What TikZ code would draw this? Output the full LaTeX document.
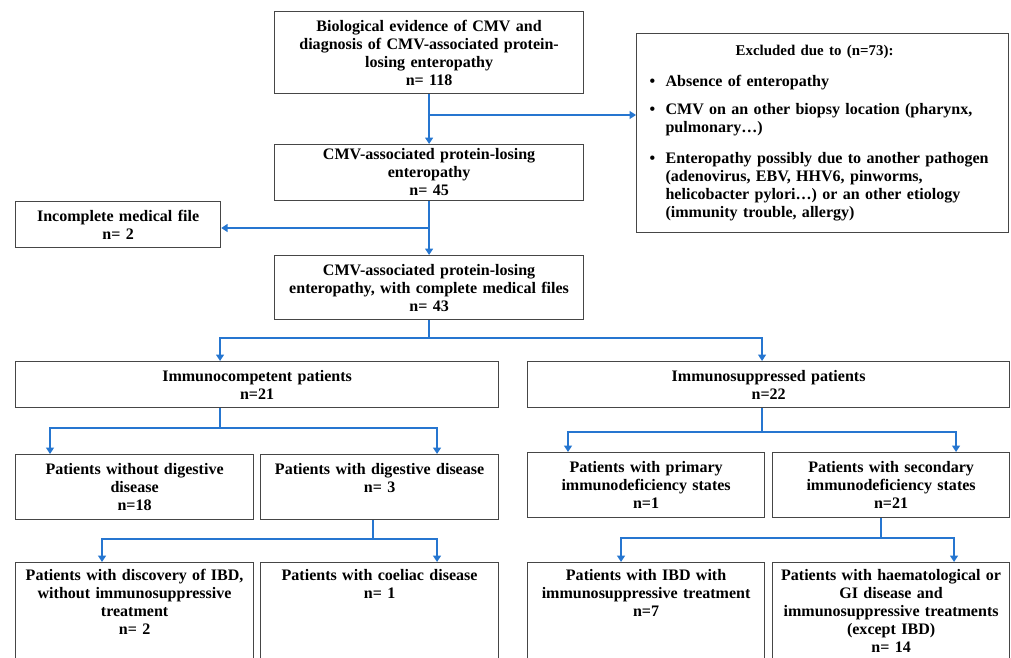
\documentclass[tikz,border=0pt]{standalone}
\usepackage{fontspec}
\setmainfont{Liberation Serif}
\usepackage{tikz}
\usetikzlibrary{arrows.meta}

\definecolor{flowblue}{RGB}{38,118,208}
\definecolor{boxgray}{RGB}{70,70,70}

\tikzset{
  box/.style={draw=boxgray, line width=0.8pt, rectangle, anchor=north west,
    inner xsep=0pt, inner ysep=3pt, align=center,
    font=\fontsize{11.4}{12.8}\selectfont\bfseries},
  openbox/.style={box, inner ysep=3.5pt, text height=9.5pt, text depth=4cm},
  flow/.style={draw=flowblue, line width=1.3pt, -{Triangle[length=4.5pt,width=5.5pt]}}
}
\newcommand{\exitem}{\hangindent=0.725cm\hangafter=1\hspace*{0.325cm}\makebox[0.4cm][l]{\textbullet}}

\begin{document}
\begin{tikzpicture}[x=0.025cm, y=-0.025cm]
        \clip (0,0) rectangle (1011,657);
        \node[box, text width=7.725cm, minimum height=2.05cm] (ev) at (274,11)
          {Biological evidence of CMV and\\ diagnosis of CMV-associated protein-\\ losing enteropathy\\ n= 118};
        \node[box, text width=9.3cm, minimum height=4.975cm, align=left] (excl) at (636,33)
          {\makebox[\linewidth][c]{\fontsize{10.6}{12.8}\selectfont Excluded due to (n=73):\hspace*{0.4cm}}\par\vspace{9pt}
           \exitem Absence of enteropathy\par\vspace{7pt}
           \exitem CMV on an other biopsy location (pharynx,\hfil\break pulmonary…)\par\vspace{9pt}
           \exitem Enteropathy possibly due to another pathogen\hfil\break (adenovirus, EBV, HHV6, pinworms,\hfil\break helicobacter pylori…) or an other etiology\hfil\break (immunity trouble, allergy)\par};
        \node[box, text width=7.725cm, minimum height=1.375cm] (cmv) at (274,144)
          {CMV-associated protein-losing\\ enteropathy\\ n= 45};
        \node[box, text width=5.125cm, minimum height=1.15cm] (inc) at (15,201)
          {Incomplete medical file\\ n= 2};
        \node[box, text width=7.725cm, minimum height=1.6cm] (full) at (274,255)
          {CMV-associated protein-losing\\ enteropathy, with complete medical files\\ n= 43};
        \node[box, text width=12.075cm, minimum height=1.15cm] (comp) at (15,361)
          {Immunocompetent patients\\ n=21};
        \node[box, text width=12.05cm, minimum height=1.15cm] (supp) at (527,361)
          {Immunosuppressed patients\\ n=22};
        \node[box, text width=5.95cm, minimum height=1.625cm] (nodig) at (15,454)
          {Patients without digestive\\ disease\\ n=18};
        \node[box, text width=5.95cm, minimum height=1.625cm] (dig) at (260,454)
          {Patients with digestive disease\\ n= 3\\ \mbox{}};
        \node[box, text width=5.925cm, minimum height=1.625cm] (prim) at (527,452)
          {Patients with primary\\ immunodeficiency states\\ n=1};
        \node[box, text width=5.925cm, minimum height=1.625cm] (sec) at (772,452)
          {Patients with secondary\\ immunodeficiency states\\ n=21};
        \node[openbox, text width=5.95cm] (ibdno) at (15,562)
          {Patients with discovery of IBD,\\ without immunosuppressive\\ treatment\\ n= 2};
        \node[openbox, text width=5.95cm] (coel) at (260,562)
          {Patients with coeliac disease\\ n= 1};
        \node[openbox, text width=5.925cm] (ibdyes) at (527,562)
          {Patients with IBD with\\ immunosuppressive treatment\\ n=7};
        \node[openbox, text width=5.925cm] (haem) at (772,562)
          {Patients with haematological or\\ GI disease and\\ immunosuppressive treatments\\ (except IBD)\\ n= 14};
        % exclusions
        \draw[flow] (ev) -- (cmv);
        \draw[flow] (ev.south |- 0,115) -- (excl.west |- 0,115);
        \draw[flow] (cmv) -- (full);
        \draw[flow] (cmv.south |- 0,228) -- (inc.east |- 0,228);
        % split by immune status
        \draw[flow] (full.south) -- ++(0,18) -| ([xshift=5.125cm]comp.north west);
        \draw[flow] (full.south) -- ++(0,18) -| ([xshift=5.875cm]supp.north west);
        \draw[flow] ([xshift=5.125cm]comp.south west) -- ++(0,20) -| ([xshift=0.875cm]nodig.north west);
        \draw[flow] ([xshift=5.125cm]comp.south west) -- ++(0,20) -| ([xshift=4.425cm]dig.north west);
        \draw[flow] ([xshift=2.825cm]dig.south west) -- ++(0,19) -| ([xshift=2.175cm]ibdno.north west);
        \draw[flow] ([xshift=2.825cm]dig.south west) -- ++(0,19) -| ([xshift=4.425cm]coel.north west);
        \draw[flow] ([xshift=5.875cm]supp.south west) -- ++(0,24) -| ([xshift=1.025cm]prim.north west);
        \draw[flow] ([xshift=5.875cm]supp.south west) -- ++(0,24) -| ([xshift=4.6cm]sec.north west);
        \draw[flow] ([xshift=2.725cm]sec.south west) -- ++(0,20) -| ([xshift=2.35cm]ibdyes.north west);
        \draw[flow] ([xshift=2.725cm]sec.south west) -- ++(0,20) -| ([xshift=4.55cm]haem.north west);
\end{tikzpicture}
\end{document}
